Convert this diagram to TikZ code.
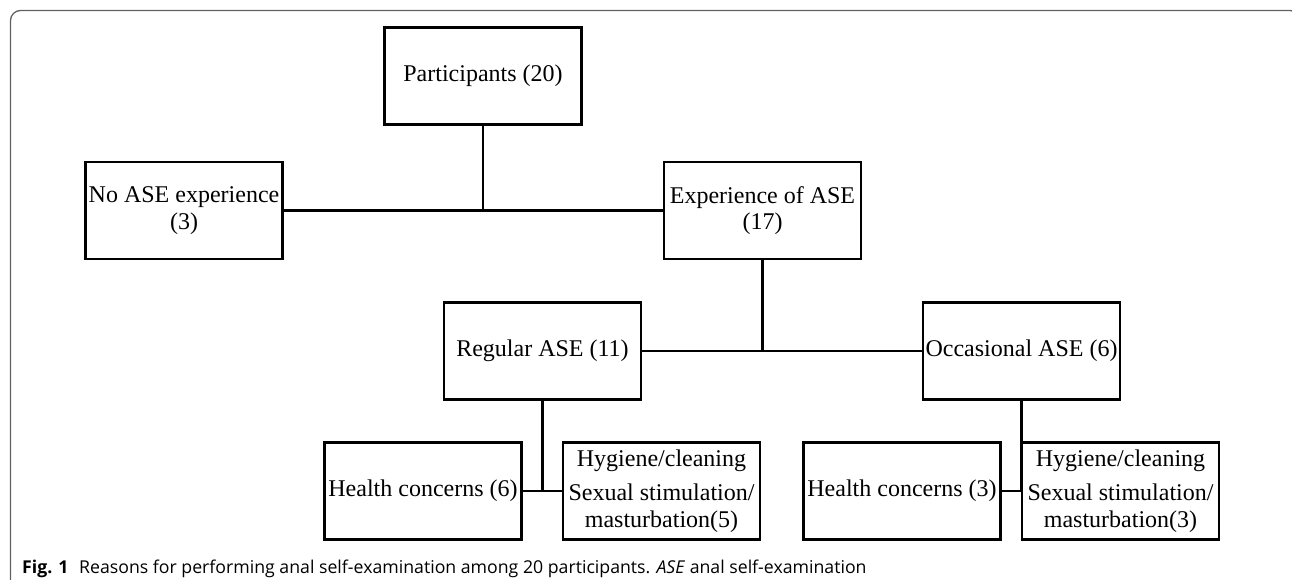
\documentclass[tikz,border=0pt]{standalone}
\usepackage{fontspec}
\setmainfont{Liberation Serif}
\newfontfamily\capfont{Open Sans}
\begin{document}
\begin{tikzpicture}[x=1pt,y=-1pt,
  box/.style={draw=black,line width=2.6pt,minimum width=197pt,minimum height=97pt,inner sep=0pt,align=center,
    font=\fontsize{24}{26.5}\selectfont},
  conn/.style={draw=black,line width=2.8pt},
  frame/.style={draw=black!62,line width=1.3pt,rounded corners=10pt}]
\useasboundingbox (0,0) rectangle (1292,579);
\begin{scope}
\clip (0,0) rectangle (1292,579);
\draw[frame] (10.5,10.5) rectangle (1300,590);
\end{scope}
\node[box] (part) at (483,76) {Participants (20)};
\node[box] (noase) at (184,210.5) {No ASE experience\\(3)};
\node[box] (exp) at (762.5,210.5) {Experience of ASE\\(17)};
\node[box] (reg) at (542.5,351) {Regular ASE (11)};
\node[box] (occ) at (1021.5,351) {Occasional ASE (6)};
\node[box] (h6) at (423,491) {Health concerns (6)};
\node[box] (hy5) at (661.5,491) {Hygiene/cleaning\\[8pt]Sexual stimulation/\\masturbation(5)};
\node[box] (h3) at (902,491) {Health concerns (3)};
\node[box] (hy3) at (1120.5,491) {Hygiene/cleaning\\[8pt]Sexual stimulation/\\masturbation(3)};
\coordinate (j1) at (part.south |- noase.east);
\coordinate (j2) at (exp.south |- reg.east);
\coordinate (j3) at (reg.south |- h6.east);
\coordinate (j4) at (occ.south |- h3.east);
\draw[conn] (part.south) -- (j1);
\draw[conn] (noase.east) -- (exp.west);
\draw[conn] (exp.south) -- (j2);
\draw[conn] (reg.east) -- (occ.west);
\draw[conn] (reg.south) -- (j3);
\draw[conn] (h6.east) -- (hy5.west);
\draw[conn] (occ.south) -- (j4);
\draw[conn] (h3.east) -- (hy3.west);
\node[anchor=base west,inner sep=0pt,font=\capfont\fontsize{17.7}{20}\selectfont] (cap) at (22,573)
  {\textbf{Fig. 1}\hspace{0.6em}Reasons for performing anal self-examination among 20 participants. \textit{ASE} anal self-examination};
\end{tikzpicture}
\end{document}
